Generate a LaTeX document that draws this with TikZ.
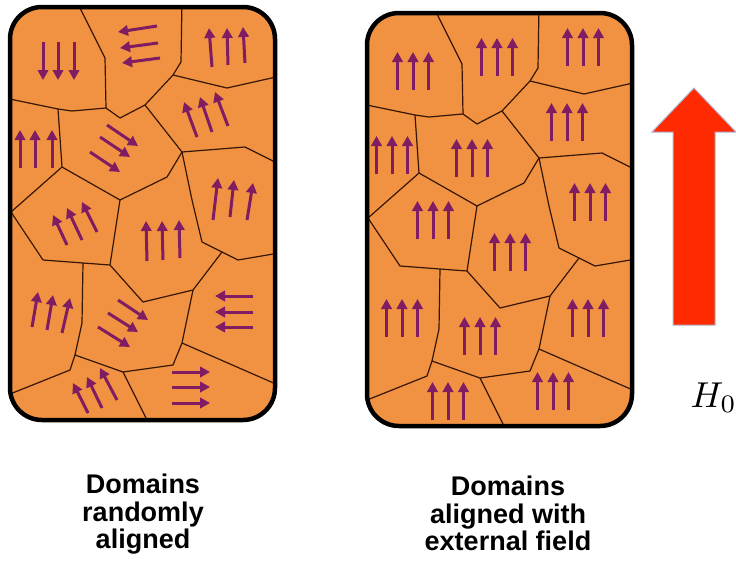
\documentclass[tikz,border=0pt]{standalone}
\usepackage{fontspec}
\setmainfont{Liberation Sans}
\usetikzlibrary{arrows.meta}
\definecolor{domorange}{RGB}{240,146,66}
\definecolor{spinpurple}{RGB}{128,28,98}
\definecolor{wallbrown}{RGB}{55,22,5}
\definecolor{fieldred}{RGB}{255,42,0}
\definecolor{fieldedge}{RGB}{175,182,210}
\newcommand\domainwalls{%
  \draw[wall] (76,0) -- (105,58) -- (106,108);
  \draw[wall] (0,97) -- (58,109) -- (72,111) -- (106,108) -- (120,118) -- (145,105) -- (173,75) -- (181,62) -- (182,0);
  \draw[wall] (173,75) -- (227,88) -- (285,75);
  \draw[wall] (145,105) -- (182,152) -- (245,147) -- (285,167);
  \draw[wall] (58,109) -- (62,167) -- (120,200) -- (167,177) -- (182,152);
  \draw[wall] (62,167) -- (11,212) -- (43,260) -- (83,263) -- (110,265) -- (120,200);
  \draw[wall] (182,152) -- (192,200) -- (202,242) -- (222,252) -- (238,260) -- (285,252);
  \draw[wall] (110,265) -- (143,302) -- (193,290) -- (222,252);
  \draw[wall] (193,290) -- (182,343) -- (173,365) -- (123,372) -- (75,355) -- (82,323) -- (83,263);
  \draw[wall] (182,343) -- (285,388);
  \draw[wall] (123,372) -- (152,430);
  \draw[wall] (75,355) -- (70,370) -- (0,398);
}
\begin{document}
\begin{tikzpicture}[x=1pt,y=-1pt,
  box/.style={draw=black,line width=4.5pt,rounded corners=32pt},
  boxfill/.style={fill=domorange,rounded corners=32pt},
  wall/.style={draw=wallbrown,line width=1.2pt,line join=round},
  spin/.style={draw=spinpurple,line width=3pt,-{Triangle[length=10pt,width=10.5pt]}},
  caption/.style={align=center,inner sep=0pt,anchor=north,font=\fontsize{27}{27.5}\selectfont\bfseries}]
\useasboundingbox (0,0) rectangle (736,573);
\fill[white] (0,0) rectangle (736,573);

% ---------- left sample ----------
\fill[boxfill] (10,7) rectangle (275,420);
\begin{scope}
  \clip[rounded corners=32pt] (10,7) rectangle (275,420);
  \domainwalls
\end{scope}
% spins, random
\draw[spin] (43,42) -- (43,80);
\draw[spin] (58,42) -- (58,80);
\draw[spin] (74,42) -- (74,80);
\draw[spin] (157,26) -- (118,32);
\draw[spin] (158,43) -- (120,48);
\draw[spin] (160,58) -- (122,63);
\draw[spin] (212,67) -- (209,28);
\draw[spin] (228,65) -- (227,28);
\draw[spin] (245,63) -- (243,27);
\draw[spin] (197,137) -- (184,102);
\draw[spin] (212,132) -- (200,97);
\draw[spin] (228,126) -- (215,92);
\draw[spin] (20,168) -- (20,130);
\draw[spin] (35,168) -- (35,130);
\draw[spin] (52,168) -- (52,130);
\draw[spin] (107,125) -- (138,146);
\draw[spin] (100,137) -- (130,157);
\draw[spin] (90,152) -- (120,172);
\draw[spin] (213,220) -- (218,178);
\draw[spin] (230,217) -- (234,180);
\draw[spin] (247,220) -- (253,183);
\draw[spin] (67,245) -- (53,215);
\draw[spin] (82,240) -- (67,208);
\draw[spin] (97,232) -- (82,202);
\draw[spin] (147,261) -- (146,221);
\draw[spin] (163,260) -- (162,221);
\draw[spin] (180,258) -- (179,220);
\draw[spin] (32,327) -- (38,292);
\draw[spin] (47,330) -- (53,295);
\draw[spin] (62,333) -- (70,298);
\draw[spin] (118,300) -- (148,320);
\draw[spin] (108,313) -- (138,332);
\draw[spin] (98,327) -- (130,347);
\draw[spin] (253,296) -- (215,296);
\draw[spin] (253,312) -- (215,312);
\draw[spin] (253,327) -- (215,327);
\draw[spin] (172,372) -- (210,372);
\draw[spin] (172,387) -- (210,387);
\draw[spin] (172,403) -- (210,403);
\draw[spin] (88,413) -- (73,383);
\draw[spin] (102,408) -- (87,377);
\draw[spin] (117,400) -- (100,368);
\draw[box] (10,7) rectangle (275,420);

% ---------- right sample ----------
\begin{scope}[shift={(357,6)}]
  \fill[boxfill] (10,7) rectangle (275,420);
  \begin{scope}
    \clip[rounded corners=32pt] (10,7) rectangle (275,420);
    \domainwalls
  \end{scope}
\end{scope}
\foreach \cx/\cy in {413/71,497/57,583/47,567/122,392/155,472/158,590/202,433/220,510/252,402/318,480/336,588/318,553/391,448/401}{
  \foreach \d in {-15.5,0,15.5}{
    \draw[spin] ({\cx+(\d)},{\cy+19}) -- ({\cx+(\d)},{\cy-19});
  }
}
\begin{scope}[shift={(357,6)}]
  \draw[box] (10,7) rectangle (275,420);
\end{scope}

% ---------- applied field ----------
\draw[fill=fieldred,draw=fieldedge,line width=1pt,line join=miter]
  (694,88) -- (736,132) -- (715,132) -- (715,325) -- (673,325) -- (673,132) -- (652,132) -- cycle;
\node[anchor=base west,inner sep=0pt,scale=3.6] (field) at (690,407) {$H_0$};

% ---------- captions ----------
\node[caption] (randomcap) at (143,474) {Domains\\randomly\\aligned};
\node[caption] (alignedcap) at (508,476) {Domains\\aligned with\\external field};
\end{tikzpicture}
\end{document}
